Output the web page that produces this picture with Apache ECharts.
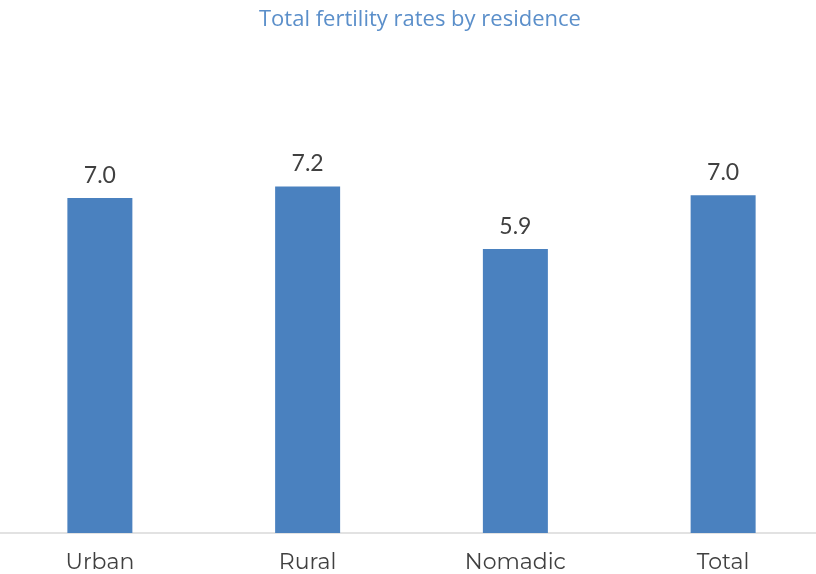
<!DOCTYPE html>
<html>
<head>
<meta charset="utf-8">
<script src="https://cdn.jsdelivr.net/npm/echarts@6/dist/echarts.min.js"></script>
<style>
  html, body { margin: 0; padding: 0; background: #ffffff; overflow: hidden; }
  /* plot band runs a little past both page edges */
  #chart { width: 831px; height: 574px; margin-left: -4px; }
</style>
</head>
<body>
<div id="chart"></div>
<script>
// Total fertility rate (children per woman) by place of residence
const categories = ['Urban', 'Rural', 'Nomadic', 'Total'];
const fertilityRates = [6.96, 7.2, 5.9, 7.02];

const chart = echarts.init(document.getElementById('chart'));
chart.setOption({
  animation: false,
  title: {
    text: 'Total fertility rates by residence',
    left: 258,
    top: 4,
    textStyle: {
      fontFamily: 'Open Sans',
      fontSize: 22,
      fontWeight: 'normal',
      color: '#5b8fca'
    }
  },
  grid: { left: 0, right: 0, top: 148, bottom: 41, containLabel: false },
  xAxis: {
    type: 'category',
    data: categories,
    axisLine: { lineStyle: { color: '#d9d9d9', width: 1.5 } },
    axisTick: { show: false },
    axisLabel: {
      fontFamily: 'Montserrat, Lato, sans-serif',
      fontSize: 22,
      color: '#404040',
      margin: 19
    }
  },
  yAxis: {
    type: 'value',
    min: 0,
    max: 8,
    show: false,
    splitLine: { show: false }
  },
  series: [{
    type: 'bar',
    data: fertilityRates,
    barWidth: 65,
    itemStyle: { color: '#4a81bf' },
    label: {
      show: true,
      position: 'top',
      distance: 11,
      fontFamily: 'Lato, sans-serif',
      fontSize: 23,
      color: '#404040',
      formatter: p => p.value.toFixed(1)
    }
  }]
});
</script>
</body>
</html>
